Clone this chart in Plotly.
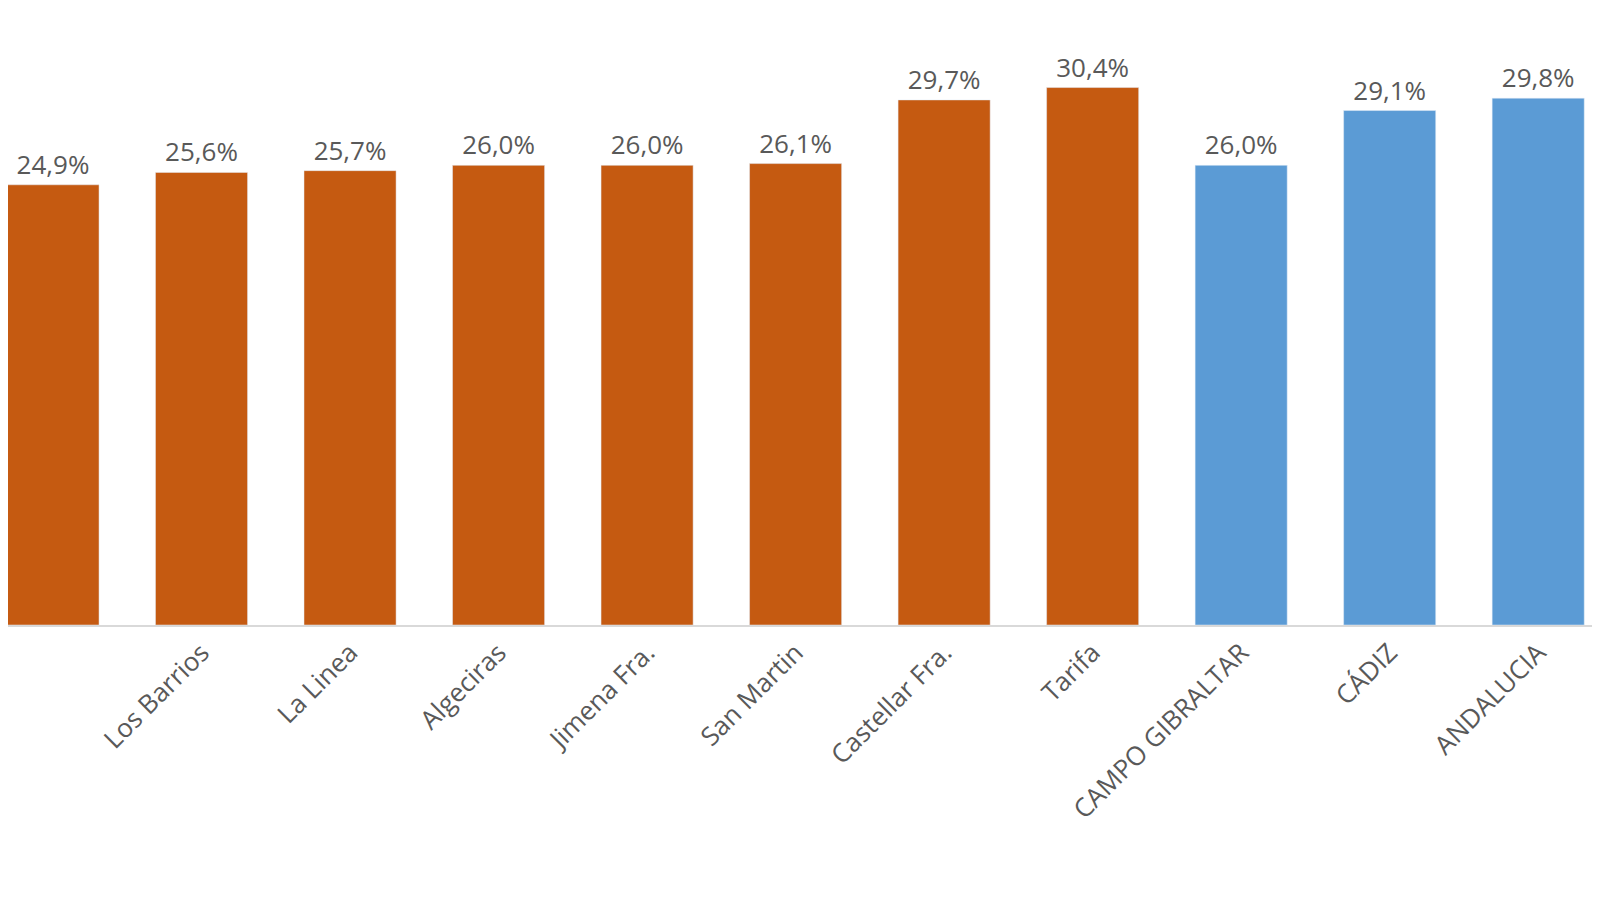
import plotly.graph_objects as go

# Datos
municipios = ["San Roque", "Los Barrios", "La Linea", "Algeciras", "Jimena Fra.",
              "San Martin", "Castellar Fra.", "Tarifa", "CAMPO GIBRALTAR", "CÁDIZ", "ANDALUCIA"]
valores = [24.9, 25.6, 25.7, 26.0, 26.0, 26.1, 29.7, 30.4, 26.0, 29.1, 29.8]
colores = ["#C55A11"] * 8 + ["#5B9BD5"] * 3

etiquetas = [f"{v:.1f}%".replace(".", ",") for v in valores]
posiciones = list(range(len(municipios)))

fig = go.Figure(go.Bar(
    x=posiciones, y=valores, marker_color=colores, width=0.62,
    text=etiquetas, textposition="outside", cliponaxis=False,
    textfont=dict(size=26, color="#595959"),
))

fig.update_layout(
    width=1600, height=900, plot_bgcolor="white", paper_bgcolor="white",
    margin=dict(l=0, r=0, t=0, b=283, autoexpand=False), showlegend=False,
    font=dict(family="Open Sans", color="#595959"),
    xaxis=dict(tickvals=posiciones, ticktext=municipios, tickangle=-45,
               range=[-0.303, 10.47], tickfont=dict(size=26, color="#595959"),
               showline=True, linecolor="#D9D9D9", linewidth=2, ticks="",
               automargin=False),
    yaxis=dict(range=[0, 34.9], visible=False, automargin=False),
)
fig.write_html("out.html")
